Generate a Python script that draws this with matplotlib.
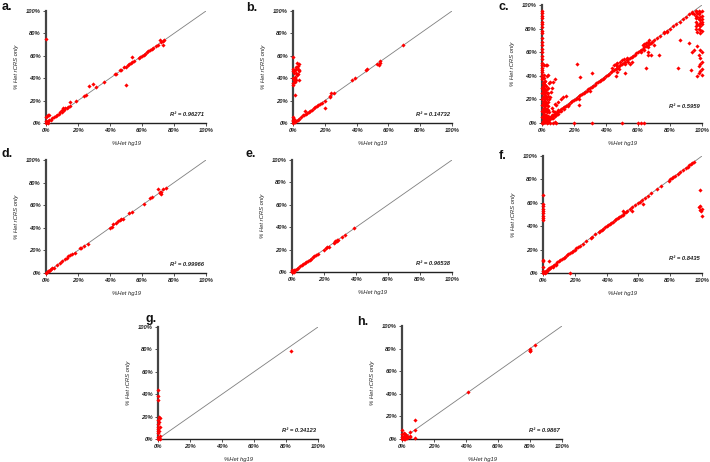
import matplotlib
matplotlib.use("Agg")
import matplotlib.pyplot as plt
from matplotlib.ticker import FixedLocator, FixedFormatter

# ---------------- data (fractions) ----------------
tick_vals = [0, 0.2, 0.4, 0.6, 0.8, 1.0]
tick_labels = ["0%", "20%", "40%", "60%", "80%", "100%"]
x_label = "%Het hg19"
y_label = "% Het rCRS only"

panel_letters = ["a.", "b.", "c.", "d.", "e.", "f.", "g.", "h."]
r2_texts = ["R² = 0.96271", "R² = 0.14732", "R² = 0.5959", "R² = 0.99966",
            "R² = 0.96538", "R² = 0.8435", "R² = 0.34123", "R² = 0.9867"]

a_points = [(0.0, 0.75), (0.5, 0.34), (0.27, 0.33), (0.295, 0.35), (0.31, 0.32), (0.36, 0.37),
            (0.54, 0.59), (0.15, 0.19), (0.19, 0.20), (0.71, 0.74), (0.73, 0.70),
            (0.0, 0.05), (0.005, 0.06), (0.01, 0.07), (0.02, 0.07), (0.0, 0.02), (0.005, 0.01),
            (0.0, 0.0), (0.01, 0.0), (0.015, 0.02), (0.02, 0.03), (0.03, 0.03), (0.04, 0.045),
            (0.05, 0.05), (0.06, 0.065), (0.07, 0.07), (0.08, 0.08), (0.09, 0.095), (0.10, 0.10),
            (0.10, 0.12), (0.105, 0.13), (0.11, 0.12), (0.12, 0.13), (0.13, 0.13), (0.14, 0.14),
            (0.15, 0.155), (0.24, 0.24), (0.25, 0.25), (0.43, 0.44), (0.44, 0.44), (0.46, 0.47),
            (0.47, 0.47), (0.49, 0.50), (0.50, 0.50), (0.51, 0.52), (0.52, 0.53), (0.53, 0.54),
            (0.54, 0.545), (0.55, 0.55), (0.58, 0.58), (0.59, 0.59), (0.60, 0.60), (0.61, 0.61),
            (0.62, 0.62), (0.63, 0.63), (0.64, 0.64), (0.65, 0.65), (0.66, 0.66), (0.67, 0.67),
            (0.69, 0.69), (0.70, 0.70), (0.72, 0.72), (0.73, 0.73), (0.74, 0.74)]

b_points = [(0.0, 0.59), (0.0, 0.48), (0.0, 0.46), (0.005, 0.45), (0.01, 0.47), (0.01, 0.40),
            (0.005, 0.38), (0.0, 0.36), (0.0, 0.34), (0.01, 0.39), (0.015, 0.41), (0.02, 0.50),
            (0.025, 0.54), (0.03, 0.48), (0.035, 0.53), (0.02, 0.45), (0.03, 0.44), (0.04, 0.46),
            (0.02, 0.38), (0.04, 0.38), (0.015, 0.25), (0.025, 0.43), (0.035, 0.47), (0.0, 0.40),
            (0.01, 0.37), (0.02, 0.48), (0.03, 0.51),
            (0.0, 0.05), (0.0, 0.03), (0.0, 0.02), (0.005, 0.04), (0.0, 0.0), (0.01, 0.01),
            (0.02, 0.015), (0.03, 0.03), (0.04, 0.04), (0.05, 0.05), (0.06, 0.07), (0.07, 0.07),
            (0.075, 0.11), (0.08, 0.08), (0.09, 0.09), (0.10, 0.10), (0.11, 0.11), (0.12, 0.12),
            (0.13, 0.13), (0.14, 0.14), (0.15, 0.15), (0.16, 0.16), (0.17, 0.17), (0.18, 0.18),
            (0.20, 0.20), (0.20, 0.13), (0.23, 0.23), (0.235, 0.24), (0.24, 0.27), (0.26, 0.27),
            (0.37, 0.38), (0.39, 0.40), (0.46, 0.47), (0.465, 0.48), (0.53, 0.53), (0.54, 0.52),
            (0.545, 0.55), (0.55, 0.54), (0.69, 0.70)]

c_column = [(0.0, 0.95), (0.0, 0.93), (0.0, 0.91), (0.0, 0.89), (0.0, 0.86), (0.0, 0.84),
            (0.0, 0.81), (0.0, 0.78), (0.0, 0.76), (0.0, 0.72), (0.0, 0.69), (0.0, 0.66),
            (0.0, 0.63), (0.0, 0.60), (0.0, 0.57), (0.0, 0.54), (0.0, 0.51), (0.0, 0.49),
            (0.0, 0.47), (0.0, 0.45), (0.0, 0.43), (0.0, 0.41), (0.0, 0.39),
            (0.005, 0.34), (0.01, 0.33), (0.015, 0.35), (0.02, 0.32), (0.005, 0.31), (0.01, 0.30),
            (0.025, 0.31), (0.015, 0.29), (0.005, 0.28), (0.02, 0.28), (0.03, 0.29), (0.01, 0.27),
            (0.025, 0.26), (0.005, 0.25), (0.015, 0.25), (0.03, 0.25), (0.02, 0.24), (0.01, 0.23),
            (0.035, 0.23), (0.005, 0.22), (0.025, 0.22), (0.015, 0.21), (0.03, 0.20), (0.01, 0.20),
            (0.02, 0.19), (0.005, 0.18), (0.035, 0.18), (0.025, 0.17), (0.015, 0.17), (0.01, 0.16),
            (0.03, 0.15), (0.005, 0.15), (0.02, 0.14), (0.04, 0.14), (0.015, 0.13), (0.025, 0.12),
            (0.005, 0.12), (0.035, 0.11), (0.01, 0.11), (0.02, 0.10), (0.03, 0.09), (0.005, 0.09),
            (0.045, 0.09), (0.015, 0.08), (0.025, 0.07), (0.01, 0.07), (0.04, 0.06), (0.005, 0.06),
            (0.02, 0.05), (0.03, 0.05), (0.015, 0.04), (0.05, 0.04), (0.01, 0.03), (0.025, 0.03),
            (0.005, 0.02), (0.035, 0.02), (0.02, 0.01), (0.01, 0.01), (0.04, 0.01), (0.005, 0.0),
            (0.03, 0.0), (0.0, 0.37), (0.02, 0.36), (0.01, 0.38), (0.03, 0.40), (0.015, 0.41),
            (0.035, 0.41), (0.045, 0.34), (0.05, 0.35), (0.055, 0.26), (0.05, 0.22), (0.045, 0.20),
            (0.04, 0.30), (0.06, 0.30), (0.01, 0.49), (0.03, 0.49), (0.025, 0.49), (0.07, 0.35),
            (0.08, 0.37), (0.0, 0.30), (0.0, 0.25), (0.0, 0.20), (0.0, 0.15), (0.0, 0.10),
            (0.0, 0.05), (0.0, 0.0), (0.01, 0.35), (0.02, 0.22), (0.03, 0.12), (0.04, 0.25)]

c_diag = [(0.02, 0.01), (0.025, 0.015), (0.03, 0.02), (0.035, 0.03), (0.04, 0.035), (0.045, 0.04),
          (0.05, 0.045), (0.055, 0.05), (0.06, 0.055), (0.065, 0.06), (0.07, 0.065), (0.075, 0.07),
          (0.08, 0.075), (0.085, 0.08), (0.09, 0.085), (0.095, 0.09), (0.10, 0.095), (0.11, 0.105),
          (0.12, 0.115), (0.13, 0.125), (0.14, 0.135), (0.15, 0.145), (0.16, 0.155), (0.17, 0.165),
          (0.18, 0.175), (0.19, 0.185), (0.20, 0.195), (0.21, 0.205), (0.22, 0.215), (0.23, 0.225),
          (0.24, 0.235), (0.25, 0.245), (0.26, 0.255), (0.27, 0.265), (0.28, 0.275), (0.29, 0.285),
          (0.30, 0.295), (0.31, 0.305), (0.32, 0.315), (0.33, 0.325), (0.34, 0.335), (0.35, 0.345),
          (0.36, 0.355), (0.37, 0.365), (0.38, 0.375), (0.39, 0.385), (0.40, 0.395), (0.41, 0.405),
          (0.42, 0.415), (0.43, 0.43), (0.44, 0.44), (0.45, 0.45), (0.46, 0.46), (0.47, 0.47),
          (0.48, 0.48), (0.49, 0.49), (0.50, 0.50), (0.51, 0.51), (0.52, 0.52), (0.53, 0.53),
          (0.54, 0.54), (0.55, 0.55), (0.56, 0.56), (0.57, 0.57), (0.58, 0.58), (0.59, 0.59),
          (0.60, 0.60), (0.61, 0.61), (0.62, 0.62), (0.63, 0.63), (0.64, 0.64), (0.65, 0.65),
          (0.66, 0.66), (0.67, 0.67), (0.68, 0.68), (0.69, 0.69), (0.70, 0.70), (0.72, 0.72),
          (0.74, 0.74), (0.76, 0.76), (0.78, 0.78), (0.80, 0.80), (0.82, 0.82), (0.84, 0.84),
          (0.86, 0.86), (0.88, 0.88), (0.90, 0.90), (0.92, 0.92), (0.94, 0.94), (0.96, 0.95),
          (0.03, 0.01), (0.04, 0.02), (0.05, 0.03), (0.06, 0.04), (0.07, 0.045), (0.08, 0.06),
          (0.09, 0.07), (0.10, 0.08), (0.12, 0.10), (0.14, 0.12), (0.16, 0.14), (0.04, 0.05),
          (0.06, 0.07), (0.08, 0.09), (0.10, 0.11),
          (0.44, 0.47), (0.45, 0.49), (0.46, 0.50), (0.47, 0.48), (0.48, 0.46), (0.50, 0.53),
          (0.51, 0.54), (0.52, 0.50), (0.53, 0.55), (0.54, 0.52), (0.55, 0.50), (0.56, 0.52),
          (0.47, 0.51), (0.49, 0.52),
          (0.63, 0.66), (0.64, 0.67), (0.65, 0.68), (0.66, 0.69), (0.62, 0.60), (0.64, 0.62),
          (0.66, 0.64), (0.67, 0.70)]

c_topright = [(0.96, 0.95), (0.97, 0.93), (0.98, 0.92), (0.99, 0.94), (1.0, 0.95), (0.97, 0.90),
              (0.98, 0.88), (0.99, 0.87), (1.0, 0.86), (0.96, 0.86), (0.97, 0.84), (0.98, 0.83),
              (0.99, 0.82), (1.0, 0.84), (0.96, 0.82), (0.98, 0.80), (0.99, 0.79), (1.0, 0.78),
              (0.97, 0.77), (0.96, 0.89), (0.99, 0.90), (1.0, 0.91), (0.98, 0.95), (0.95, 0.92),
              (0.94, 0.93), (0.96, 0.91), (1.0, 0.88), (0.985, 0.85), (0.965, 0.80), (0.99, 0.76)]

c_rightcol = [(0.99, 0.62), (1.0, 0.60), (0.98, 0.58), (0.99, 0.55), (1.0, 0.52), (0.99, 0.50),
              (0.98, 0.48), (1.0, 0.46), (0.99, 0.44), (0.98, 0.42), (1.0, 0.41), (0.97, 0.40),
              (0.95, 0.62), (0.94, 0.60)]

c_scatter = [(0.22, 0.50), (0.24, 0.39), (0.31, 0.42), (0.30, 0.27), (0.23, 0.20), (0.23, 0.15),
             (0.13, 0.22), (0.12, 0.20), (0.10, 0.18), (0.09, 0.15), (0.08, 0.16), (0.07, 0.10),
             (0.06, 0.13), (0.15, 0.23), (0.46, 0.40), (0.47, 0.43), (0.52, 0.42), (0.65, 0.47),
             (0.66, 0.58), (0.66, 0.60), (0.68, 0.58), (0.73, 0.58), (0.86, 0.70), (0.85, 0.47),
             (0.92, 0.68), (0.93, 0.45), (0.97, 0.65), (0.70, 0.66), (0.76, 0.77), (0.78, 0.77)]

c_axis = [(0.05, 0.0), (0.07, 0.0), (0.09, 0.0), (0.20, 0.0), (0.31, 0.0), (0.50, 0.0),
          (0.60, 0.0), (0.62, 0.0), (0.64, 0.0), (0.04, 0.005), (0.08, 0.005)]

d_points = [(0.0, 0.0), (0.005, 0.01), (0.01, 0.015), (0.02, 0.02), (0.025, 0.03), (0.03, 0.035),
            (0.04, 0.04), (0.05, 0.045), (0.07, 0.07), (0.09, 0.09), (0.10, 0.11), (0.12, 0.12),
            (0.13, 0.13), (0.14, 0.15), (0.15, 0.16), (0.16, 0.17), (0.18, 0.18), (0.21, 0.22),
            (0.22, 0.22), (0.24, 0.24), (0.26, 0.26), (0.40, 0.40), (0.41, 0.405), (0.42, 0.43),
            (0.44, 0.44), (0.45, 0.46), (0.46, 0.47), (0.47, 0.475), (0.48, 0.48), (0.52, 0.53),
            (0.54, 0.54), (0.61, 0.61), (0.65, 0.66), (0.66, 0.67), (0.70, 0.74), (0.71, 0.71),
            (0.72, 0.72), (0.72, 0.70), (0.73, 0.74), (0.75, 0.75), (0.715, 0.715)]

e_points = [(0.0, 0.0), (0.0, 0.01), (0.005, 0.005), (0.01, 0.01), (0.01, 0.02), (0.02, 0.02),
            (0.03, 0.03), (0.04, 0.04), (0.05, 0.05), (0.06, 0.06), (0.07, 0.07), (0.08, 0.08),
            (0.09, 0.09), (0.10, 0.10), (0.11, 0.11), (0.12, 0.12), (0.13, 0.13), (0.14, 0.14),
            (0.15, 0.15), (0.16, 0.165), (0.20, 0.20), (0.21, 0.21), (0.22, 0.22), (0.23, 0.225),
            (0.26, 0.26), (0.27, 0.27), (0.28, 0.28), (0.29, 0.29), (0.31, 0.31), (0.33, 0.33),
            (0.39, 0.39), (0.27, 0.275), (0.28, 0.29), (0.0, 0.015), (0.005, 0.0), (0.01, 0.0)]

f_points = [(0.0, 0.67), (0.0, 0.59), (0.0, 0.57), (0.0, 0.55), (0.0, 0.53), (0.0, 0.51),
            (0.0, 0.49), (0.0, 0.47), (0.0, 0.45), (0.0, 0.11), (0.0, 0.05), (0.0, 0.10),
            (0.0, 0.02), (0.0, 0.0), (0.005, 0.01), (0.01, 0.0), (0.02, 0.01), (0.04, 0.10),
            (0.17, 0.0), (0.63, 0.59), (0.56, 0.53), (0.50, 0.53),
            (0.99, 0.71), (0.98, 0.56), (0.99, 0.57), (1.0, 0.55), (0.985, 0.54), (1.0, 0.49),
            (0.995, 0.53),
            (0.01, 0.01), (0.02, 0.02), (0.03, 0.03), (0.04, 0.04), (0.05, 0.05), (0.06, 0.06),
            (0.07, 0.07), (0.08, 0.08), (0.09, 0.09), (0.10, 0.10), (0.11, 0.11), (0.12, 0.12),
            (0.13, 0.13), (0.14, 0.14), (0.15, 0.15), (0.16, 0.16), (0.17, 0.17), (0.18, 0.18),
            (0.19, 0.19), (0.20, 0.20), (0.21, 0.21), (0.22, 0.22), (0.23, 0.23), (0.25, 0.25),
            (0.27, 0.27), (0.30, 0.30), (0.31, 0.31), (0.33, 0.33), (0.35, 0.35), (0.36, 0.36),
            (0.37, 0.37), (0.38, 0.38), (0.39, 0.39), (0.40, 0.40), (0.41, 0.41), (0.42, 0.42),
            (0.43, 0.43), (0.44, 0.44), (0.45, 0.45), (0.46, 0.46), (0.47, 0.47), (0.48, 0.48),
            (0.49, 0.49), (0.50, 0.50), (0.51, 0.51), (0.52, 0.52), (0.53, 0.53), (0.55, 0.55),
            (0.56, 0.56), (0.58, 0.58), (0.60, 0.60), (0.61, 0.61), (0.62, 0.62), (0.64, 0.64),
            (0.66, 0.66), (0.68, 0.68), (0.72, 0.72), (0.74, 0.74), (0.79, 0.79), (0.80, 0.80),
            (0.81, 0.81), (0.82, 0.82), (0.83, 0.83), (0.85, 0.85), (0.86, 0.86), (0.88, 0.88),
            (0.90, 0.90), (0.91, 0.91), (0.92, 0.92), (0.93, 0.93), (0.94, 0.94), (0.95, 0.95),
            (0.015, 0.01), (0.025, 0.015), (0.035, 0.03), (0.045, 0.04), (0.06, 0.05), (0.08, 0.07)]

g_points = [(0.0, 0.44), (0.0, 0.38), (0.0, 0.35), (0.005, 0.20), (0.01, 0.19), (0.0, 0.17),
            (0.005, 0.15), (0.0, 0.13), (0.01, 0.11), (0.0, 0.09), (0.005, 0.07), (0.0, 0.05),
            (0.01, 0.03), (0.0, 0.02), (0.005, 0.01), (0.0, 0.0), (0.01, 0.0), (0.0, 0.11),
            (0.0, 0.07), (0.83, 0.79)]

h_points = [(0.83, 0.83), (0.80, 0.80), (0.80, 0.79), (0.80, 0.78), (0.80, 0.775), (0.41, 0.42),
            (0.08, 0.17), (0.08, 0.08), (0.08, 0.01), (0.05, 0.06), (0.05, 0.03), (0.05, 0.02),
            (0.0, 0.08), (0.01, 0.05), (0.0, 0.04), (0.01, 0.03), (0.02, 0.04), (0.015, 0.02),
            (0.02, 0.02), (0.03, 0.03), (0.0, 0.02), (0.005, 0.01), (0.02, 0.0), (0.01, 0.0),
            (0.03, 0.01), (0.025, 0.035), (0.0, 0.0), (0.04, 0.02)]

panel_data = [a_points, b_points,
              c_column + c_diag + c_topright + c_rightcol + c_scatter + c_axis,
              d_points, e_points, f_points, g_points, h_points]

# ---------------- layout (pixel boxes: left, top, right, bottom) ----------------
W, H = 710, 462
boxes = [(46, 11, 206, 123), (293, 11, 452, 123), (542, 5, 702, 123),
         (46, 160, 206, 273), (292, 160, 452, 272), (543, 156, 702, 273),
         (158, 327, 318, 439), (402, 326, 562, 439)]
letter_pos = [(2, 10), (246, 11), (499, 10), (2, 157), (246, 157), (499, 159),
              (146, 322), (357, 325)]
r2_y = [0.05, 0.05, 0.12, 0.05, 0.05, 0.10, 0.05, 0.05]

fig = plt.figure(figsize=(W / 100, H / 100), dpi=100)
fig.patch.set_facecolor("white")
fam = ["Liberation Sans", "DejaVu Sans"]

for i, pts in enumerate(panel_data):
    l, t, r, b = boxes[i]
    ax = fig.add_axes([l / W, 1 - b / H, (r - l) / W, (b - t) / H])
    ax.set_xlim(0, 1)
    ax.set_ylim(0, 1)
    ax.plot([0, 1], [0, 1], color="#7f7f7f", lw=0.6, zorder=1)
    xs = [p[0] for p in pts]
    ys = [p[1] for p in pts]
    ax.scatter(xs, ys, marker="D", s=4.5, color="#ff0000", linewidths=0,
               zorder=3, clip_on=False)
    for s in ["top", "right"]:
        ax.spines[s].set_visible(False)
    ax.spines["left"].set_linewidth(1.6)
    ax.spines["left"].set_color("#444444")
    ax.spines["bottom"].set_linewidth(1.0)
    ax.spines["bottom"].set_color("#222222")
    ax.xaxis.set_major_locator(FixedLocator(tick_vals))
    ax.yaxis.set_major_locator(FixedLocator(tick_vals))
    ax.xaxis.set_major_formatter(FixedFormatter(tick_labels))
    ax.yaxis.set_major_formatter(FixedFormatter(tick_labels))
    ax.tick_params(axis="both", direction="out", length=2, width=0.6, pad=1.5,
                   labelsize=4.2, color="#333333")
    for lab in ax.get_xticklabels() + ax.get_yticklabels():
        lab.set_fontfamily(fam)
        lab.set_fontstyle("italic")
        lab.set_fontweight("bold")
        lab.set_color("#222222")
    ax.set_xlabel(x_label, fontsize=4.2, fontstyle="italic", family=fam, color="#222222")
    ax.set_ylabel(y_label, fontsize=4.2, fontstyle="italic", family=fam, color="#222222")
    ax.xaxis.set_label_coords(0.5, -18 / (b - t))
    ax.yaxis.set_label_coords(-27 / (r - l), 0.5)
    ax.text(0.985, r2_y[i], r2_texts[i], transform=ax.transAxes, ha="right", va="bottom",
            fontsize=4.2, fontstyle="italic", fontweight="bold", family=fam, color="#222222")
    lx, ly = letter_pos[i]
    fig.text(lx / W, 1 - ly / H, panel_letters[i], ha="left", va="baseline",
             fontsize=9, fontweight="bold", family=fam, color="#111111")

fig.savefig("out.png", dpi=100, facecolor="white")
